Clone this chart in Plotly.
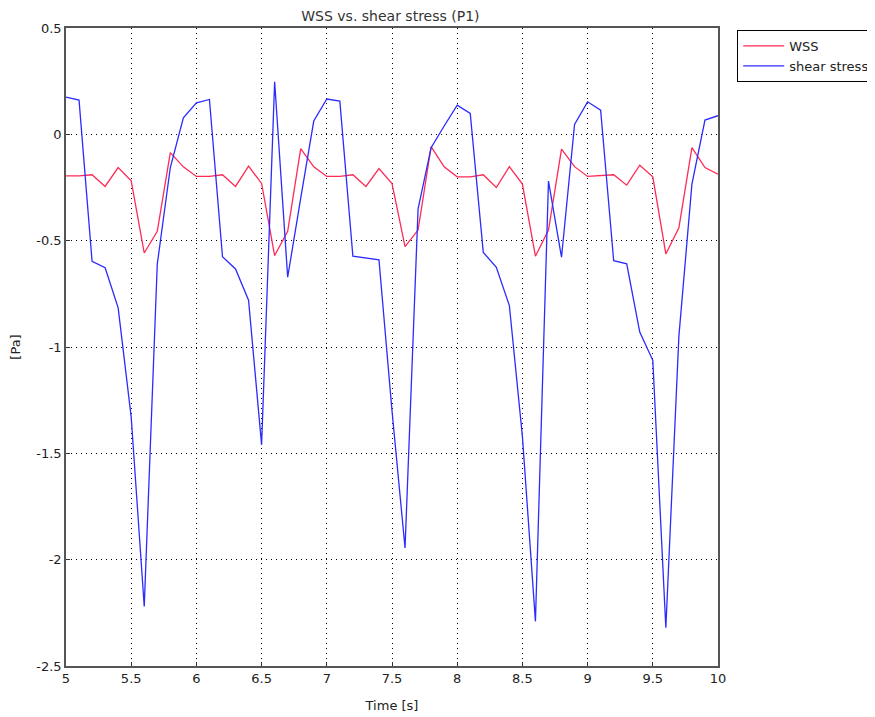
import plotly.graph_objects as go

time = [round(5 + 0.1 * i, 1) for i in range(51)]

wss = [-0.195, -0.195, -0.19, -0.245, -0.156, -0.219, -0.558, -0.456, -0.086, -0.153,
       -0.198, -0.198, -0.19, -0.245, -0.15, -0.231, -0.570, -0.456, -0.067, -0.153,
       -0.198, -0.198, -0.19, -0.245, -0.161, -0.231, -0.528, -0.45, -0.058, -0.153,
       -0.2, -0.2, -0.19, -0.25, -0.152, -0.234, -0.573, -0.45, -0.07, -0.152,
       -0.198, -0.194, -0.19, -0.239, -0.145, -0.2, -0.5625, -0.44, -0.0625, -0.156,
       -0.1875]

shear = [0.175, 0.161, -0.597, -0.627, -0.816, -1.33, -2.22, -0.61, -0.156, 0.078,
         0.148, 0.164, -0.575, -0.633, -0.78, -1.46, 0.247, -0.672, -0.30, 0.0625,
         0.166, 0.156, -0.573, -0.581, -0.59, -1.30, -1.945, -0.35, -0.063, 0.039,
         0.1375, 0.098, -0.555, -0.625, -0.805, -1.42, -2.29, -0.22, -0.578, 0.047,
         0.153, 0.114, -0.594, -0.609, -0.93, -1.0625, -2.32, -0.95, -0.234, 0.067,
         0.0875]

x_ticks = [5, 5.5, 6, 6.5, 7, 7.5, 8, 8.5, 9, 9.5, 10]
x_labels = ["5", "5.5", "6", "6.5", "7", "7.5", "8", "8.5", "9", "9.5", "10"]
y_ticks = [0.5, 0, -0.5, -1, -1.5, -2, -2.5]
y_labels = ["0.5", "0", "-0.5", "-1", "-1.5", "-2", "-2.5"]

fig = go.Figure()
fig.add_trace(go.Scatter(x=time, y=wss, mode="lines", name="WSS",
                         line=dict(color="#ff2a55", width=1.3)))
fig.add_trace(go.Scatter(x=time, y=shear, mode="lines", name="shear stress",
                         line=dict(color="#2b2bff", width=1.3)))

font_family = "DejaVu Sans, Verdana, sans-serif"
grid_dash = "1px,4px"

fig.update_layout(
    width=875, height=717,
    paper_bgcolor="white", plot_bgcolor="white",
    margin=dict(l=58, r=165, t=20, b=59, autoexpand=False),
    title=dict(text="WSS vs. shear stress (P1)", x=0.437, xanchor="center",
               y=0.989, yanchor="middle",
               font=dict(family=font_family, size=14, color="#333333")),
    font=dict(family=font_family, size=13, color="#222222"),
    showlegend=True,
    legend=dict(xref="container", yref="container",
                x=0.8334, xanchor="left", y=0.9693, yanchor="top",
                bordercolor="#000000", borderwidth=1, bgcolor="white",
                font=dict(family=font_family, size=13, color="#222222"),
                itemwidth=41, tracegroupgap=2),
    xaxis=dict(range=[5, 10], tickvals=x_ticks, ticktext=x_labels,
               showgrid=True, gridcolor="#000000", griddash=grid_dash, gridwidth=1,
               showline=True, linecolor="#555555", linewidth=1.5, mirror=True,
               ticks="inside", ticklen=4, tickcolor="#333333",
               zeroline=False, automargin=False,
               title=dict(text="Time [s]", standoff=16,
                          font=dict(family=font_family, size=13))),
    yaxis=dict(range=[-2.5, 0.5], tickvals=y_ticks, ticktext=y_labels,
               showgrid=True, gridcolor="#000000", griddash=grid_dash, gridwidth=1,
               showline=True, linecolor="#555555", linewidth=1.5, mirror=True,
               ticks="inside", ticklen=4, tickcolor="#333333",
               zeroline=False, automargin=False,
               title=dict(text="[Pa]", standoff=14,
                          font=dict(family=font_family, size=13))),
)

fig.write_html("out.html")
